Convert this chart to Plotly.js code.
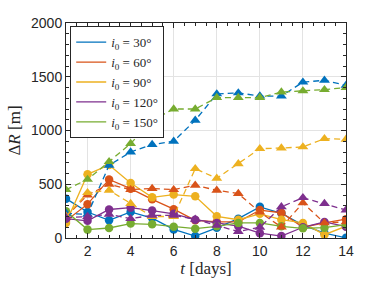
<!DOCTYPE html>
<html>
<head>
<meta charset="utf-8">
<script src="https://cdn.plot.ly/plotly-3.0.1.min.js"></script>
<style>html,body{margin:0;padding:0;background:#fff;}#chart{width:382px;height:286px;}</style>
</head>
<body>
<div id="chart"></div>
<script>
// Days
const days = [1,2,3,4,5,6,7,8,9,10,11,12,13,14];
// Series labels
const labels = ['30°','60°','90°','120°','150°'];
// Solid lines (circle markers)
const solid30  = [366,242,165,242,185,80,18,95,180,290,230,120,45,2];
const solid60  = [160,315,545,459,360,268,165,150,150,260,235,100,140,175];
const solid90  = [140,592,680,512,378,404,388,202,170,225,170,140,31,110];
const solid120 = [180,160,265,282,255,225,170,140,110,45,18,100,149,105];
const solid150 = [248,78,93,134,127,105,87,109,140,140,109,90,96,125];
// Dashed lines (triangle markers)
const dash30  = [230,220,676,800,869,900,1095,1340,1350,1320,1320,1450,1467,1420];
const dash60  = [200,400,500,450,460,450,490,444,413,240,102,326,140,150];
const dash90  = [200,422,444,320,200,200,645,555,690,831,837,847,924,918];
const dash120 = [190,200,220,180,211,211,174,118,60,100,290,375,320,260];
const dash150 = [450,545,710,878,1095,1200,1200,1306,1306,1306,1358,1368,1380,1400];

const colors = ['#0072BD','#D95319','#EDB120','#7E2F8E','#77AC30'];
const solids = [solid30, solid60, solid90, solid120, solid150];
const dashes = [dash30, dash60, dash90, dash120, dash150];

const traces = [];
solids.forEach((s,i)=>{
  traces.push({x:days, y:s, mode:'lines+markers', showlegend:false,
    line:{color:colors[i], width:1.3},
    marker:{symbol:'circle', size:8.5, color:colors[i]}});
});
dashes.forEach((s,i)=>{
  traces.push({x:days, y:s, mode:'lines+markers', showlegend:false,
    line:{color:colors[i], width:1.3, dash:'6px,4px'},
    marker:{symbol:'triangle-up', size:9.5, color:colors[i]}});
});
labels.forEach((l,i)=>{
  traces.push({x:[null], y:[null], mode:'lines', showlegend:true,
    name:'<i>i</i><sub>0</sub> = '+l,
    line:{color:colors[i], width:1.3}});
});

const axisCommon = {
  showline:true, linecolor:'#262626', linewidth:1, mirror:'allticks',
  ticks:'inside', ticklen:5, tickcolor:'#262626', tickwidth:1,
  showgrid:true, gridcolor:'#e3e3e3', gridwidth:1, zeroline:false,
  tickfont:{family:'Liberation Sans, Arial, sans-serif', size:14, color:'#262626'},
  minor:{ticks:'inside', ticklen:3, tickcolor:'#262626', showgrid:false}
};

const layout = {
  width:382, height:286,
  margin:{l:66, r:36, t:23, b:48},
  paper_bgcolor:'#fff', plot_bgcolor:'#fff',
  showlegend:true,
  legend:{x:0.015, y:0.985, xanchor:'left', yanchor:'top',
    bgcolor:'#fff', bordercolor:'#262626', borderwidth:1,
    font:{family:'Liberation Serif, serif', size:13, color:'#262626'},
    itemwidth:30, tracegroupgap:0},
  xaxis:Object.assign({}, axisCommon, {
    range:[1,14], tick0:0, dtick:2,
    minor:Object.assign({}, axisCommon.minor, {dtick:0.5}),
    title:{text:'<i>t</i> [days]', standoff:4,
      font:{family:'Liberation Serif, serif', size:17, color:'#262626'}}
  }),
  yaxis:Object.assign({}, axisCommon, {
    range:[0,2000], tick0:0, dtick:500,
    minor:Object.assign({}, axisCommon.minor, {dtick:100}),
    title:{text:'Δ<i>R</i> [m]', standoff:6,
      font:{family:'Liberation Serif, serif', size:17, color:'#262626'}}
  })
};

Plotly.newPlot('chart', traces, layout, {staticPlot:true, displayModeBar:false});
</script>
</body>
</html>
